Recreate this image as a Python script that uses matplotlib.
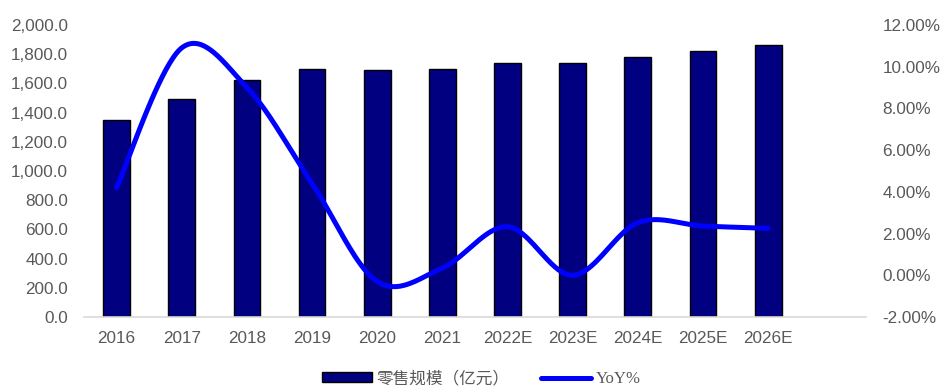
import numpy as np
import matplotlib.pyplot as plt
from matplotlib.ticker import FuncFormatter

plt.rcParams['font.family'] = ['Liberation Sans', 'DejaVu Sans']

years = ['2016', '2017', '2018', '2019', '2020', '2021',
         '2022E', '2023E', '2024E', '2025E', '2026E']
retail_size = [1350, 1494, 1626, 1697, 1690, 1697, 1736, 1736, 1779, 1822, 1863]
yoy = [4.2, 10.9, 9.0, 4.4, -0.3, 0.35, 2.33, 0.0, 2.52, 2.36, 2.25]

bar_color = '#000080'
line_color = '#0000FF'
text_color = '#595959'


def smooth_curve(xs, ys, steps=40):
    # Bezier segments with Catmull-Rom style control points (spreadsheet "smoothed line")
    xs = np.asarray(xs, float)
    ys = np.asarray(ys, float)
    n = len(xs)
    px, py = [], []
    for i in range(n - 1):
        x0, y0 = xs[max(i - 1, 0)], ys[max(i - 1, 0)]
        x1, y1 = xs[i], ys[i]
        x2, y2 = xs[i + 1], ys[i + 1]
        x3, y3 = xs[min(i + 2, n - 1)], ys[min(i + 2, n - 1)]
        c1x, c1y = x1 + (x2 - x0) / 6, y1 + (y2 - y0) / 6
        c2x, c2y = x2 - (x3 - x1) / 6, y2 - (y3 - y1) / 6
        t = np.linspace(0, 1, steps, endpoint=(i == n - 2))
        a, b, c, d = (1 - t) ** 3, 3 * (1 - t) ** 2 * t, 3 * (1 - t) * t ** 2, t ** 3
        px.extend(a * x1 + b * c1x + c * c2x + d * x2)
        py.extend(a * y1 + b * c1y + c * c2y + d * y2)
    return np.array(px), np.array(py)


fig = plt.figure(figsize=(9.42, 3.89), dpi=100)
ax = fig.add_axes([0.0892, 0.185, 0.830, 0.751])
ax2 = ax.twinx()

x = np.arange(len(years))
bars = ax.bar(x, retail_size, width=0.41, color=bar_color, edgecolor='black',
              linewidth=1.0, label='零售规模（亿元）', zorder=2)

sx, sy = smooth_curve(x, yoy)
line, = ax2.plot(sx, sy, color=line_color, linewidth=3.6,
                 solid_capstyle='round', label='YoY%', zorder=3)

ax.set_xlim(-0.5, 11.5)
ax.set_ylim(0, 2000)
ax.set_yticks(np.arange(0, 2001, 200))
ax.yaxis.set_major_formatter(FuncFormatter(lambda v, p: f'{v:,.1f}'))
ax.set_xticks(x)
ax.set_xticklabels(years)

ax2.set_ylim(-2, 12)
ax2.set_yticks(np.arange(-2, 12.1, 2))
ax2.yaxis.set_major_formatter(FuncFormatter(lambda v, p: f'{v:.2f}%'))

for a in (ax, ax2):
    for s in a.spines.values():
        s.set_visible(False)
    a.tick_params(length=0, labelsize=12.3, colors=text_color)
ax.spines['bottom'].set_visible(True)
ax.spines['bottom'].set_color('#D9D9D9')
ax.spines['bottom'].set_linewidth(1.2)
ax.tick_params(axis='y', pad=11.5)
ax.tick_params(axis='x', pad=10)
ax2.tick_params(axis='y', pad=12)

ax.set_zorder(ax2.get_zorder() - 1)
ax.patch.set_visible(True)
ax2.patch.set_visible(False)

leg = fig.legend([bars, line], ['零售规模（亿元）', 'YoY%'],
                 loc='center', bbox_to_anchor=(0.511, 0.027), ncol=2, frameon=False,
                 prop={'family': ['Noto Sans CJK SC', 'DejaVu Sans'], 'size': 12},
                 handlelength=3.0, handleheight=0.5, handletextpad=0.3,
                 columnspacing=1.9, labelcolor=text_color, borderpad=0.1)
leg.get_texts()[1].set_family(['Liberation Serif', 'DejaVu Serif'])

fig.savefig('out.png', dpi=100)
